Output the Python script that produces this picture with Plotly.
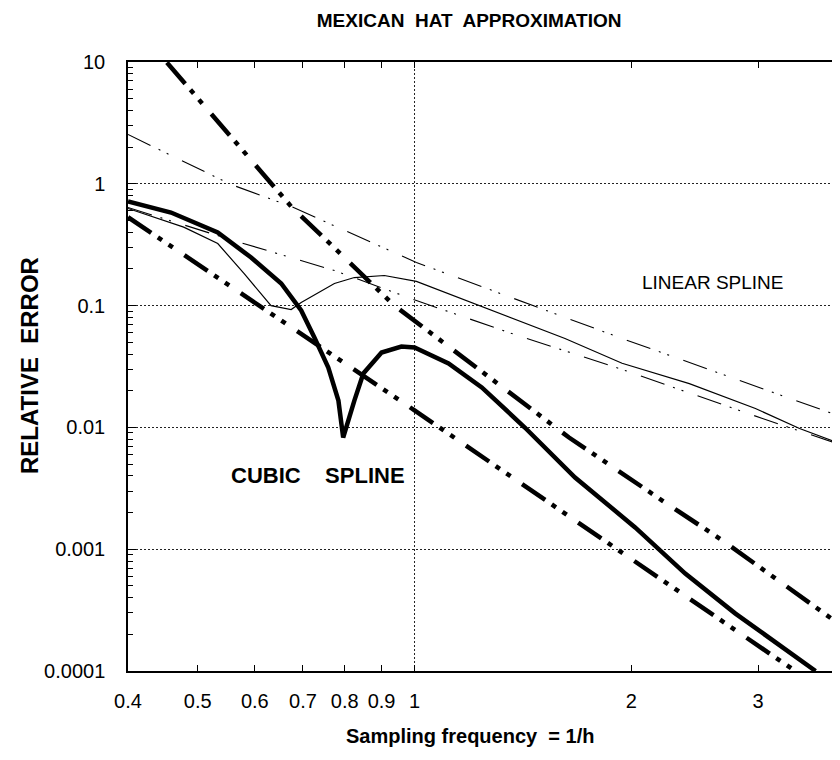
import math
import plotly.graph_objects as go

# ---------------- data ----------------
# cubic spline: upper estimate (thick dash-dot-dot)
cubic_upper_x = [0.453, 0.5, 0.632, 0.674, 0.938, 1.396, 1.639, 2.208, 2.677, 3.93]
cubic_upper_y = [9.9, 5.0, 1.0, 0.651, 0.1, 0.01663, 0.00826, 0.00251, 0.00118, 0.000232]

# cubic spline: lower estimate (thick dash-dot-dot)
cubic_lower_x = [0.4, 1.0, 1.923, 3.37]
cubic_lower_y = [0.532, 0.0138, 0.000975, 0.000101]

# cubic spline: actual error (thick solid)
cubic_err_x = [0.4, 0.459, 0.533, 0.593, 0.653, 0.696, 0.726, 0.759, 0.784, 0.796,
               0.825, 0.849, 0.900, 0.959, 1.0, 1.115, 1.240, 1.423, 1.671, 2.025,
               2.377, 2.791, 3.606]
cubic_err_y = [0.716, 0.581, 0.398, 0.248, 0.152, 0.0912, 0.0547, 0.031, 0.0166, 0.00826,
               0.0166, 0.0277, 0.0412, 0.0461, 0.0453, 0.0335, 0.0213, 0.00998, 0.00388, 0.00151,
               0.000631, 0.000296, 0.0001]

# linear spline: actual error (thin solid)
linear_err_x = [0.4, 0.478, 0.533, 0.580, 0.632, 0.674, 0.696, 0.774, 0.825, 0.908,
                1.006, 1.252, 1.618, 1.942, 2.408, 2.975, 3.426, 3.93]
linear_err_y = [0.627, 0.441, 0.323, 0.183, 0.1, 0.0927, 0.106, 0.152, 0.170, 0.1766,
                0.158, 0.0964, 0.0537, 0.0336, 0.0229, 0.01428, 0.0098, 0.00724]

# linear spline: upper estimate (thin dash-dot-dot)
linear_upper_x = [0.4, 0.556, 0.674, 1.006, 1.942, 3.93]
linear_upper_y = [2.54, 0.987, 0.651, 0.226, 0.0537, 0.01213]

# linear spline: lower estimate (thin dash-dot-dot)
linear_lower_x = [0.4, 0.561, 0.774, 1.006, 1.365, 1.942, 3.043, 3.93]
linear_lower_y = [0.639, 0.342, 0.194, 0.110, 0.059, 0.0299, 0.01183, 0.00711]

x_tick_vals = [0.4, 0.5, 0.6, 0.7, 0.8, 0.9, 1, 2, 3]
x_tick_text = ["0.4", "0.5", "0.6", "0.7", "0.8", "0.9", "1", "2", "3"]
y_tick_vals = [0.0001, 0.001, 0.01, 0.1, 1, 10]
y_tick_text = ["0.0001", "0.001", "0.01", "0.1", "1", "10"]
y_minor_vals = [m * 10.0 ** e for e in range(-4, 1) for m in range(2, 10)]

x_min, x_max = 0.4, 4.0
FONT = "Liberation Sans"

thick_dash = "28px,8px,5px,8px,5px,14px"
thin_dash = "25px,9px,2px,7px,2px,15px"

fig = go.Figure()

fig.add_trace(go.Scatter(x=linear_upper_x, y=linear_upper_y, mode="lines",
                         line=dict(color="black", width=1.1, dash=thin_dash)))
fig.add_trace(go.Scatter(x=linear_lower_x, y=linear_lower_y, mode="lines",
                         line=dict(color="black", width=1.1, dash=thin_dash)))
fig.add_trace(go.Scatter(x=linear_err_x, y=linear_err_y, mode="lines",
                         line=dict(color="black", width=1.2)))
fig.add_trace(go.Scatter(x=cubic_upper_x, y=cubic_upper_y, mode="lines",
                         line=dict(color="black", width=4.5, dash=thick_dash)))
fig.add_trace(go.Scatter(x=cubic_lower_x, y=cubic_lower_y, mode="lines",
                         line=dict(color="black", width=4.5, dash=thick_dash)))
fig.add_trace(go.Scatter(x=cubic_err_x, y=cubic_err_y, mode="lines",
                         line=dict(color="black", width=4.5)))

# vertical dotted gridline at x = 1
fig.add_shape(type="line", xref="x", yref="paper", x0=1, x1=1, y0=0, y1=1,
              line=dict(color="#222222", width=1, dash="2px,2px"), layer="below")

fig.update_layout(
    width=840, height=760,
    margin=dict(l=120, r=0, t=54, b=97),
    paper_bgcolor="white", plot_bgcolor="white",
    showlegend=False,
    font=dict(family=FONT, color="black", size=20),
    title=dict(text="MEXICAN\u00a0 HAT\u00a0 APPROXIMATION", x=0.549, xanchor="center",
               y=1 - 12 / 760, yanchor="middle", yref="container",
               font=dict(family=FONT, size=19, weight="bold", color="black")),
)

fig.update_xaxes(
    type="log", range=[math.log10(x_min), math.log10(x_max)],
    tickmode="array", tickvals=x_tick_vals, ticktext=x_tick_text,
    ticks="inside", ticklen=6, tickwidth=1, tickcolor="black",
    showline=True, linecolor="black", linewidth=1.5, mirror="ticks",
    showgrid=False, zeroline=False, ticklabelstandoff=11,
    tickfont=dict(family=FONT, size=20, color="black"),
)
fig.update_yaxes(
    type="log", range=[-4, 1],
    tickmode="array", tickvals=y_tick_vals, ticktext=y_tick_text,
    ticks="inside", ticklen=8, tickwidth=1, tickcolor="black",
    showline=True, linecolor="black", linewidth=1.5, mirror=False,
    showgrid=True, gridcolor="#222222", gridwidth=1, griddash="2px,2px",
    zeroline=False, ticklabelstandoff=17,
    tickfont=dict(family=FONT, size=20, color="black"),
    minor=dict(tickmode="array", tickvals=y_minor_vals, ticks="inside",
               ticklen=5, tickwidth=1, tickcolor="black", showgrid=False),
)

fig.add_annotation(text="LINEAR SPLINE", xref="x", yref="y",
                   x=math.log10(2.6), y=math.log10(0.1535), showarrow=False,
                   font=dict(family=FONT, size=19, color="black"))
fig.add_annotation(text="CUBIC\u00a0\u00a0\u00a0 SPLINE", xref="x", yref="y",
                   x=math.log10(0.735), y=math.log10(0.00406), showarrow=False,
                   font=dict(family=FONT, size=22, weight="bold", color="black"))
fig.add_annotation(text="Sampling frequency\u00a0 = 1/h", xref="paper", yref="paper",
                   x=(470 - 128) / 720, y=(671 - 736) / 609, showarrow=False,
                   xanchor="center", yanchor="middle",
                   font=dict(family=FONT, size=20, weight="bold", color="black"))
fig.add_annotation(text="RELATIVE\u00a0 ERROR", xref="paper", yref="paper",
                   x=(30 - 128) / 720, y=(671 - 366) / 609, showarrow=False,
                   textangle=-90, xanchor="center", yanchor="middle",
                   font=dict(family=FONT, size=24, weight="bold", color="black"))

fig.write_html("out.html")
